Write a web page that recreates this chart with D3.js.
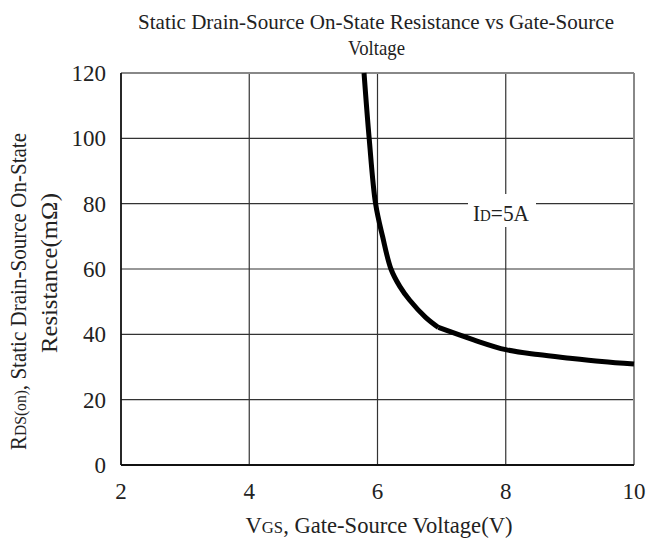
<!DOCTYPE html>
<html><head><meta charset="utf-8">
<script src="https://cdn.jsdelivr.net/npm/d3@7"></script>
<style>body{margin:0;background:#fff;}</style>
</head><body>
<svg id="chart" width="648" height="547"></svg>
<script>
const vgs = [5.79, 5.87, 5.97, 6.08, 6.21, 6.35, 6.5, 6.75, 6.95, 7.5, 8, 8.5, 9, 9.5, 10];
const rds = [120, 100, 80, 69.9, 60, 54.6, 50.5, 45.2, 42.1, 38.3, 35.3, 33.8, 32.7, 31.7, 30.9];
const kneeIndex = 8;
const xTicks = [2, 4, 6, 8, 10];
const yTicks = [0, 20, 40, 60, 80, 100, 120];

const FONT = "'Liberation Serif', 'DejaVu Serif', 'Times New Roman', serif";
const svg = d3.select("#chart").attr("font-family", FONT).style("font-family", FONT).attr("fill", "#222");
const L = 121, R = 634, T = 73, B = 465;
const x = d3.scaleLinear().domain([2, 10]).range([L, R]);
const y = d3.scaleLinear().domain([0, 120]).range([B, T]);

// grid
svg.append("g").selectAll("line").data(yTicks.filter(v => v > 0 && v < 120)).join("line")
  .attr("x1", L).attr("x2", R).attr("y1", d => y(d)).attr("y2", d => y(d))
  .attr("stroke", "#333").attr("stroke-width", 1.2);
svg.append("g").selectAll("line").data(xTicks.filter(v => v > 2 && v < 10)).join("line")
  .attr("y1", T).attr("y2", B).attr("x1", d => x(d)).attr("x2", d => x(d))
  .attr("stroke", "#333").attr("stroke-width", 1.2);

// frame
svg.append("line").attr("x1", L).attr("x2", R).attr("y1", T).attr("y2", T).attr("stroke", "#888").attr("stroke-width", 2);
svg.append("line").attr("x1", R).attr("x2", R).attr("y1", T).attr("y2", B).attr("stroke", "#888").attr("stroke-width", 2);
svg.append("line").attr("x1", L).attr("x2", L).attr("y1", T).attr("y2", B).attr("stroke", "#111").attr("stroke-width", 1.8);
svg.append("line").attr("x1", L).attr("x2", R).attr("y1", B).attr("y2", B).attr("stroke", "#111").attr("stroke-width", 1.8);

// tick labels
svg.append("g").selectAll("text").data(yTicks).join("text")
  .attr("x", 106).attr("y", d => y(d)).attr("dy", "0.35em").attr("text-anchor", "end")
  .attr("font-size", 23).text(d => d);
svg.append("g").selectAll("text").data(xTicks).join("text")
  .attr("x", d => x(d)).attr("y", 499).attr("text-anchor", "middle")
  .attr("font-size", 23).text(d => d);

// curve (two smooth pieces meeting at the knee)
const pts = vgs.map((v, i) => [v, rds[i]]);
const line = d3.line().x(d => x(d[0])).y(d => y(d[1])).curve(d3.curveCatmullRom.alpha(0.5));
[pts.slice(0, kneeIndex + 1), pts.slice(kneeIndex)].forEach(seg => {
  svg.append("path").datum(seg).attr("d", line)
    .attr("fill", "none").attr("stroke", "#000").attr("stroke-width", 5).attr("stroke-linejoin", "round");
});

// label
svg.append("rect").attr("x", 468).attr("y", 194).attr("width", 68).attr("height", 33).attr("fill", "#fff");
const lab = svg.append("text").attr("x", 473).attr("y", 221).attr("font-size", 23)
  .attr("textLength", 56).attr("lengthAdjust", "spacingAndGlyphs");
lab.append("tspan").text("I");
lab.append("tspan").attr("font-size", 16).text("D");
lab.append("tspan").text("=5A");

// title
svg.append("text").attr("x", 376).attr("y", 29).attr("text-anchor", "middle").attr("font-size", 22)
  .attr("textLength", 476).attr("lengthAdjust", "spacingAndGlyphs")
  .text("Static Drain-Source On-State Resistance vs Gate-Source");
svg.append("text").attr("x", 376.5).attr("y", 55).attr("text-anchor", "middle").attr("font-size", 22)
  .attr("textLength", 57).attr("lengthAdjust", "spacingAndGlyphs")
  .text("Voltage");

// x label
const xl = svg.append("text").attr("x", 379).attr("y", 533).attr("text-anchor", "middle").attr("font-size", 23)
  .attr("textLength", 267).attr("lengthAdjust", "spacingAndGlyphs");
xl.append("tspan").text("V");
xl.append("tspan").attr("font-size", 17).text("GS");
xl.append("tspan").text(", Gate-Source Voltage(V)");

// y label
const y1 = svg.append("text").attr("transform", "translate(25.5,291.5) rotate(-90)")
  .attr("text-anchor", "middle").attr("font-size", 23)
  .attr("textLength", 317).attr("lengthAdjust", "spacingAndGlyphs");
y1.append("tspan").text("R");
y1.append("tspan").attr("font-size", 17).text("DS(on)");
y1.append("tspan").text(", Static Drain-Source On-State");
svg.append("text").attr("transform", "translate(57,273) rotate(-90)")
  .attr("text-anchor", "middle").attr("font-size", 23)
  .attr("textLength", 160).attr("lengthAdjust", "spacingAndGlyphs")
  .text("Resistance(m\u2126)");
</script>
</body></html>
